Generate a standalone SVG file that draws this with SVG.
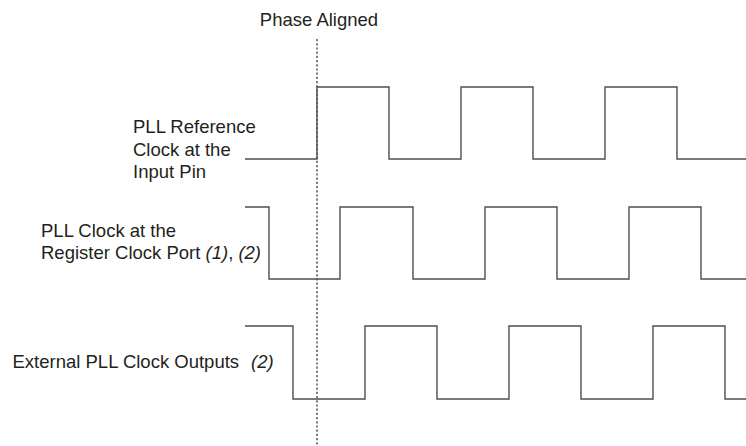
<svg xmlns="http://www.w3.org/2000/svg" width="746" height="446" viewBox="0 0 746 446">
<style>
.t{font-family:"Liberation Sans",Arial,sans-serif;font-size:18.5px;fill:#231f20}
.i{font-style:italic}
.w{fill:none;stroke:#4d4d4d;stroke-width:1.4}
.d{fill:none;stroke:#555;stroke-width:1.5;stroke-dasharray:2.2 2}
</style>
<rect width="746" height="446" fill="#fff"/>
<g id="phase-aligned">
<text class="t" x="319" y="26" text-anchor="middle">Phase Aligned</text>
<line class="d" x1="317" y1="39" x2="317" y2="446"/>
</g>
<g id="ref-clock">
<text class="t" x="133" y="133">PLL Reference</text>
<text class="t" x="133" y="155.5">Clock at the</text>
<text class="t" x="133" y="178">Input Pin</text>
<path class="w" d="M245,159H317V87H389V159H461V87H533V159H605V87H677V159H746"/>
</g>
<g id="pll-clock">
<text class="t" x="41" y="236.5">PLL Clock at the</text>
<text class="t" x="41" y="259">Register Clock Port <tspan class="i">(1)</tspan>, <tspan class="i">(2)</tspan></text>
<path class="w" d="M245,207H269V279H340V207H413V279H485V207H557V279H629V207H701V279H746"/>
</g>
<g id="ext-clock">
<text class="t" x="12.5" y="368">External PLL Clock Outputs <tspan class="i" x="251">(2)</tspan></text>
<path class="w" d="M245,326H293V399H365V326H437V399H509V326H581V399H653V326H725V399H746"/>
</g>
</svg>
